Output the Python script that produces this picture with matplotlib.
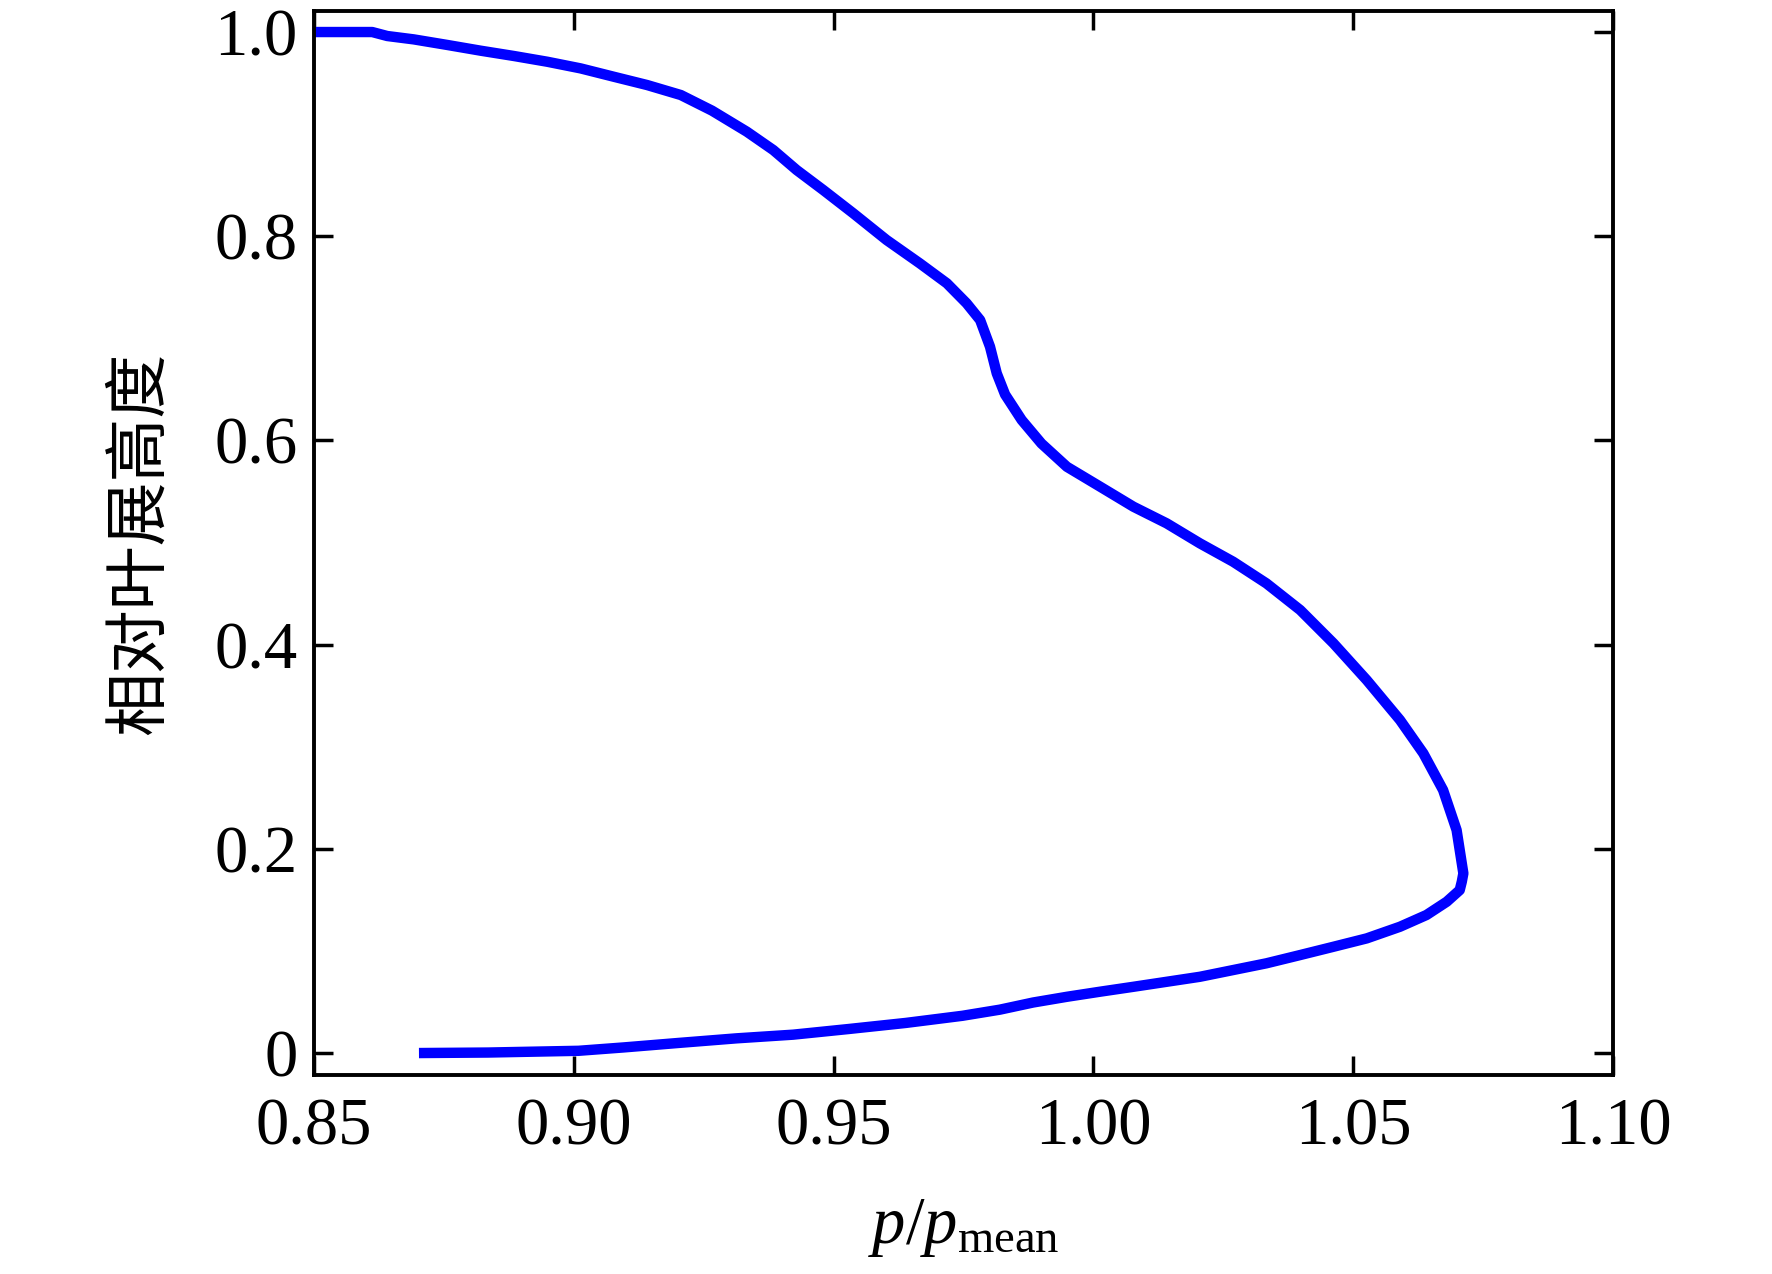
""" Spanwise distribution of p/p_mean """

import matplotlib.pyplot as plt
import numpy as np

# p/p_mean along the curve, from span 1.0 down round the nose back to span 0
P_RATIO = [0.8500, 0.8612, 0.8641, 0.8692, 0.8757, 0.8821, 0.8885, 0.8949,
           0.9013, 0.9077, 0.9141, 0.9206, 0.9266, 0.9333, 0.9384, 0.9429,
           0.9480, 0.9538, 0.9602, 0.9666, 0.9718, 0.9756, 0.9782, 0.9801,
           0.9814, 0.9830, 0.9862, 0.9900, 0.9949, 1.0013, 1.0077, 1.0141,
           1.0205, 1.0269, 1.0333, 1.0398, 1.0462, 1.0526, 1.0590, 1.0635,
           1.0673, 1.0699, 1.0712, 1.0709, 1.0705, 1.0680, 1.0641, 1.0590,
           1.0526, 1.0462, 1.0398, 1.0333, 1.0269, 1.0205, 1.0141, 1.0077,
           1.0013, 0.9949, 0.9884, 0.9820, 0.9748, 0.9639, 0.9530, 0.9422,
           0.9313, 0.9204, 0.9096, 0.9009, 0.8835, 0.8702]
SPAN = [1.0000, 1.0000, 0.9961, 0.9928, 0.9873, 0.9817, 0.9765, 0.9709,
        0.9644, 0.9562, 0.9481, 0.9383, 0.9230, 0.9024, 0.8844, 0.8648,
        0.8453, 0.8224, 0.7963, 0.7734, 0.7539, 0.7343, 0.7179, 0.6918,
        0.6657, 0.6450, 0.6200, 0.5970, 0.5742, 0.5547, 0.5351, 0.5188,
        0.4992, 0.4812, 0.4600, 0.4339, 0.4013, 0.3653, 0.3262, 0.2935,
        0.2576, 0.2184, 0.1760, 0.1678, 0.1596, 0.1482, 0.1352, 0.1237,
        0.1123, 0.1041, 0.0960, 0.0879, 0.0813, 0.0747, 0.0698, 0.0649,
        0.0601, 0.0551, 0.0495, 0.0425, 0.0365, 0.0295, 0.0236, 0.0180,
        0.0144, 0.0100, 0.0055, 0.0022, 0.0005, 0.0000]

X_TICKS = [0.85, 0.90, 0.95, 1.00, 1.05, 1.10]
X_LABELS = ['0.85', '0.90', '0.95', '1.00', '1.05', '1.10']
Y_TICKS = [0, 0.2, 0.4, 0.6, 0.8, 1.0]
Y_LABELS = ['0', '0.2', '0.4', '0.6', '0.8', '1.0']

plt.rcParams['font.family'] = ['Liberation Serif', 'Noto Sans CJK SC']
plt.rcParams['mathtext.fontset'] = 'custom'
plt.rcParams['mathtext.rm'] = 'Liberation Serif'
plt.rcParams['mathtext.it'] = 'Liberation Serif:italic'

fig = plt.figure(figsize=(17.72, 12.74), dpi=100)
ax = fig.add_axes([314 / 1772, 1 - 1075 / 1274, 1299 / 1772, 1064 / 1274])

ax.plot(P_RATIO, SPAN, color='#0000ff', linewidth=7.5, solid_capstyle='butt')

ax.set_xlim(0.85, 1.10)
ax.set_ylim(-0.0215, 1.0206)
ax.set_xticks(X_TICKS, X_LABELS)
ax.set_yticks(Y_TICKS, Y_LABELS)
ax.tick_params(direction='in', length=14, width=2.5, labelsize=48,
               top=True, right=True, pad=12)
ax.tick_params(axis='x', pad=16)
for sp in ax.spines.values():
    sp.set_linewidth(2.8)

ax.set_xlabel(r'$p/p_{\rm mean}$', fontsize=48, labelpad=28)
ax.set_ylabel('相对叶展高度', fontsize=46, family=['Noto Sans CJK SC'],
              labelpad=30)

fig.savefig('out.png', dpi=100)
